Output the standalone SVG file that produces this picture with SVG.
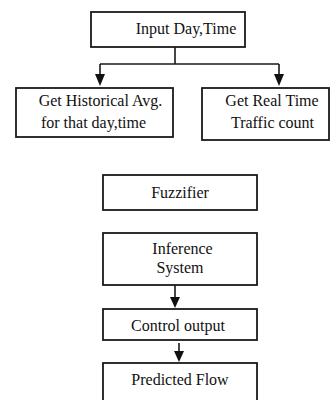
<svg xmlns="http://www.w3.org/2000/svg" width="333" height="400" viewBox="0 0 333 400">
<style>
.box{fill:#fff;stroke:#1a1a1a;stroke-width:1.8}
.t{font-family:"Liberation Serif","Times New Roman",serif;font-size:16px;fill:#111;text-anchor:middle}
.ln{stroke:#1a1a1a;stroke-width:1.6;fill:none}
.ah{fill:#111}
</style>
<rect width="333" height="400" fill="#fff"/>
<g id="connectors">
<path class="ln" d="M175,47 V64 M100,64 H279 M100,64 V76 M279,64 V76"/>
<polygon class="ah" points="95,74 105,74 100,86"/>
<polygon class="ah" points="274,74 284,74 279,86"/>
<path class="ln" d="M175,285 V299"/>
<polygon class="ah" points="170,297 180,297 175,308"/>
<path class="ln" d="M179,343 V353"/>
<polygon class="ah" points="174,351 184,351 179,362"/>
</g>
<g id="input"><rect class="box" x="91" y="12" width="154" height="35"/><text class="t" x="186" y="34">Input Day,Time</text></g>
<g id="historical"><rect class="box" x="16" y="88" width="157" height="49"/><text class="t" x="100.5" y="106">Get Historical Avg.</text><text class="t" x="93.5" y="128">for that day,time</text></g>
<g id="realtime"><rect class="box" x="202" y="88" width="127" height="52"/><text class="t" x="272" y="106">Get Real Time</text><text class="t" x="272.5" y="128">Traffic count</text></g>
<g id="fuzzifier"><rect class="box" x="103" y="175" width="154" height="35"/><text class="t" x="180" y="198">Fuzzifier</text></g>
<g id="inference"><rect class="box" x="103" y="233" width="154" height="52"/><text class="t" x="182.5" y="254">Inference</text><text class="t" x="180" y="273">System</text></g>
<g id="control"><rect class="box" x="103" y="309" width="154" height="31"/><text class="t" x="178" y="331">Control output</text></g>
<g id="predicted"><rect class="box" x="103" y="363" width="154" height="40"/><text class="t" x="180" y="385">Predicted Flow</text></g>
</svg>
